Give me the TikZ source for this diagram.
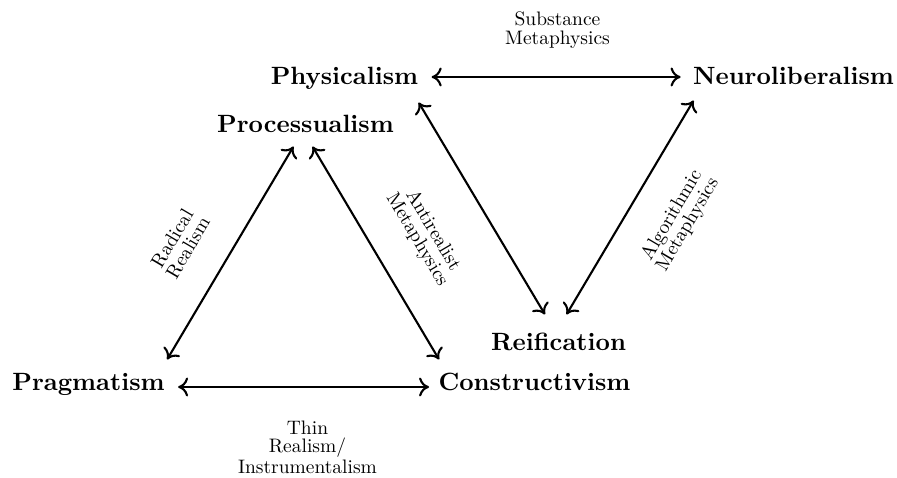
\documentclass[tikz,border=0pt]{standalone}
\usetikzlibrary{arrows.meta}
\tikzset{
  concept/.style={inner sep=0pt, anchor=base, scale=2.5, text height=6.8pt, text depth=2pt,
    font=\bfseries\fontsize{10}{12}\selectfont},
  edgelabel/.style={inner sep=0pt, align=center, scale=1.95, font=\fontsize{10}{9.4}\selectfont},
  link/.style={line width=2.1pt, {Computer Modern Rightarrow[length=10pt,width=19pt]}-{Computer Modern Rightarrow[length=10pt,width=19pt]}}
}
\begin{document}
\begin{tikzpicture}[x=1pt,y=-1pt]
\useasboundingbox (0,0) rectangle (897,478);
% concepts
\node[concept] (phys)  at (344.5,85)  {Physicalism};
\node[concept] (neuro) at (793.5,85)  {Neuroliberalism};
\node[concept] (proc)  at (305.5,133) {Processualism};
\node[concept] (reif)  at (558.5,350) {Reification};
\node[concept] (prag)  at (88.5,390)  {Pragmatism};
\node[concept] (cons)  at (534.5,390) {Constructivism};
% edge labels
\node[edgelabel] (lsub) at (557.5,30) {Substance\\Metaphysics};
\node[edgelabel] (lthin) at (307.5,447) {Thin\\Realism/\\Instrumentalism};
\node[edgelabel, rotate=59.5] (lrad) at (180,243) {Radical\\Realism};
\node[edgelabel, rotate=-59.5] (lanti) at (425,235) {Antirealist\\Metaphysics};
\node[edgelabel, rotate=59.5] (lalgo) at (680,220) {Algorithmic\\Metaphysics};
% connectors
\draw[link] ([shift={(13,-2)}]phys.east) -- ([shift={(-12,-2)}]neuro.west);
\draw[link] ([shift={(13,3)}]prag.east) -- ([shift={(-9,3)}]cons.west);
\draw[link] ([shift={(0,12)}]phys.south east) -- ([shift={(-13.5,-18)}]reif.north);
\draw[link] ([shift={(1,10)}]neuro.south west) -- ([shift={(8,-18)}]reif.north);
\draw[link] ([shift={(-12,8)}]proc.south) -- ([shift={(2,-13)}]prag.north east);
\draw[link] ([shift={(7,8)}]proc.south) -- ([shift={(1,-13)}]cons.north west);
\end{tikzpicture}
\end{document}
